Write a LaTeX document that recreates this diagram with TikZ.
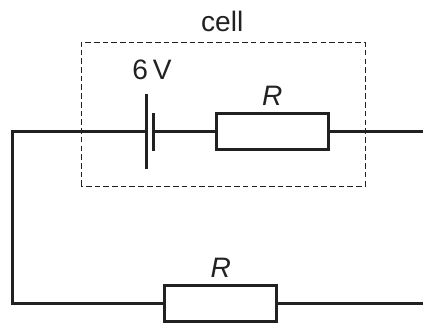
\documentclass[tikz,border=0pt]{standalone}
\usepackage{fontspec}
\setmainfont{Liberation Sans}
\usepackage{xcolor}
\usetikzlibrary{positioning}
\definecolor{inkline}{gray}{0.13}

\tikzset{
	wire/.style={draw=inkline, line width=1.6pt},
	resistor/.style={draw=inkline, line width=2pt, fill=white, minimum width=2.8cm, minimum height=0.88cm, inner sep=0pt},
	plate/.style={fill=inkline, inner sep=0pt, minimum width=1.6pt},
	lbl/.style={text=inkline, inner sep=0pt, font=\fontsize{20}{22}\selectfont},
}

\begin{document}
\begin{tikzpicture}
	\useasboundingbox (0,0) rectangle (10.575,8.05);

	\coordinate (TL) at (0.3125,4.7625);
	\coordinate (BL) at (0.3125,0.4625);
	\coordinate (TR) at (10.575,4.7625);
	\coordinate (BR) at (10.575,0.4625);

	% \draw cell outline
	\draw[inkline, line width=0.65pt, dash pattern=on 4pt off 2.2pt] (2.025,3.4) rectangle (9.125,7);
	\node[lbl, anchor=base] (cell) at (5.555,7.26) {cell};

	% battery and resistors
	\node[plate, minimum height=1.875cm] (longplate) at (3.66,4.7625) {};
	\node[plate, minimum height=0.95cm] (shortplate) at (3.84,4.7625) {};
	\node[lbl, above=0.35cm of longplate, xshift=0.14cm] (volt) {6\,V};
	\node[resistor] (Rtop) at (6.805,4.7625) {};
	\node[resistor] (Rbot) at (5.52,0.4625) {};
	\node[lbl, above=0.16cm of Rtop] (Rtoplbl) {\itshape R};
	\node[lbl, above=0.16cm of Rbot] (Rbotlbl) {\itshape R};

	% \draw wires
	\draw[wire, line join=miter] (longplate) -- (TL) -- (BL) -- (Rbot);
	\draw[wire] (shortplate) -- (Rtop);
	\draw[wire] (Rtop) -- (TR);
	\draw[wire] (Rbot) -- (BR);
\end{tikzpicture}
\end{document}
